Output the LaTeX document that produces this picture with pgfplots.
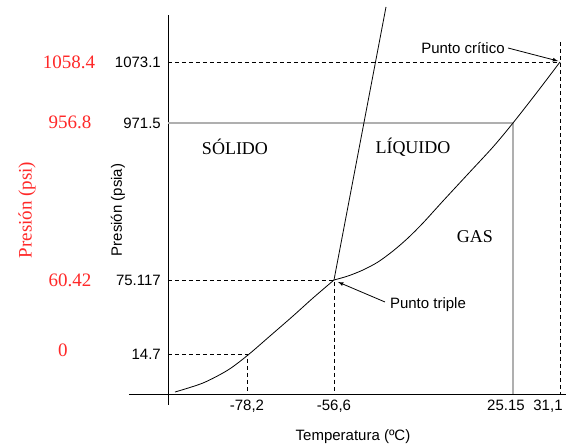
\documentclass[border=0pt]{standalone}
\usepackage{pgfplots}
\pgfplotsset{compat=1.18}
\usepackage{fontspec}
\setmainfont{Liberation Serif}
\setsansfont{Liberation Sans}
\definecolor{grayline}{RGB}{175,175,175}
\definecolor{redlab}{RGB}{255,40,40}
\begin{document}
\begin{tikzpicture}
\useasboundingbox (-168pt,-52pt) rectangle (403pt,394pt);
\begin{axis}[
  anchor=origin, at={(0pt,0pt)},
  x=1pt, y=1pt,
  xmin=-39, xmax=398, ymin=-11, ymax=379,
  axis lines=middle,
  axis line style={-, black, line width=0.8pt},
  clip=false,
  major tick length=0pt,
  xtick={79,166,345,392},
  xticklabels={{-78,2},{-56,6},{\raisebox{-3pt}{25.15}\hspace*{14pt}},{\raisebox{2pt}{31,1}\hspace*{24pt}}},
  ytick={40,114,271,332},
  yticklabels={14.7,75.117,971.5,1073.1},
  xticklabel style={font=\sffamily\fontsize{15}{18}\selectfont, anchor=north, yshift=-6pt, inner sep=0pt},
  yticklabel style={font=\sffamily\fontsize{15}{18}\selectfont, anchor=east, xshift=-7pt, inner sep=0pt},
]
% gray lines
\addplot[grayline, line width=1.6pt, solid] coordinates {(0,271) (345,271) (345,0)};
% dashed guide lines
\addplot[black, line width=0.8pt, dash pattern=on 4pt off 3pt] coordinates {(0,332) (392,332)};
\addplot[black, line width=0.8pt, dash pattern=on 4pt off 3pt] coordinates {(392,352) (392,0)};
\addplot[black, line width=0.8pt, dash pattern=on 4pt off 3pt] coordinates {(0,114) (166,114) (166,0)};
\addplot[black, line width=0.8pt, dash pattern=on 4pt off 3pt] coordinates {(0,40) (79,40) (79,0)};
% sublimation curve
\addplot[black, line width=0.8pt, solid, smooth, tension=0.5] coordinates {(7,2) (35,11) (60,24) (80,39) (102,58) (125,78) (145,96) (166,114)};
% melting line
\addplot[black, line width=0.8pt, solid] coordinates {(166,114) (218,387)};
% vaporization curve
\addplot[black, line width=0.8pt, solid, smooth, tension=0.5] coordinates {(166,114) (180,118) (195,124) (210,132) (225,143) (240,156) (255,171) (275,193) (300,220) (325,247) (345,271) (370,303) (392,332)};
% region labels
\node[font=\fontsize{18}{20}\selectfont] at (axis cs:67,247) {SÓLIDO};
\node[font=\fontsize{18}{20}\selectfont] at (axis cs:245,247) {LÍQUIDO};
\node[font=\fontsize{18}{20}\selectfont] at (axis cs:307,157) {GAS};
% annotations
\node[font=\sffamily\fontsize{15}{18}\selectfont] at (axis cs:295,346) {Punto crítico};
\draw[-latex, line width=0.8pt] (axis cs:340,346) -- (axis cs:390,333);
\node[font=\sffamily\fontsize{15}{18}\selectfont] at (axis cs:260,89) {Punto triple};
\draw[-latex, line width=0.8pt] (axis cs:217,92) -- (axis cs:170,112);
% axis labels
\node[font=\sffamily\fontsize{15}{18}\selectfont] at (axis cs:185,-43) {Temperatura (ºC)};
\node[font=\sffamily\fontsize{15}{18}\selectfont, rotate=90] at (axis cs:-50,184) {Presión (psia)};
\node[font=\fontsize{19}{22}\selectfont, text=redlab, rotate=90] at (axis cs:-141,184) {Presión (psi)};
% red values
\node[font=\fontsize{19}{22}\selectfont, text=redlab] at (axis cs:-99,332) {1058.4};
\node[font=\fontsize{19}{22}\selectfont, text=redlab] at (axis cs:-98,272) {956.8};
\node[font=\fontsize{19}{22}\selectfont, text=redlab] at (axis cs:-98,114) {60.42};
\node[font=\fontsize{19}{22}\selectfont, text=redlab] at (axis cs:-105,44) {0};
\end{axis}
\end{tikzpicture}
\end{document}
